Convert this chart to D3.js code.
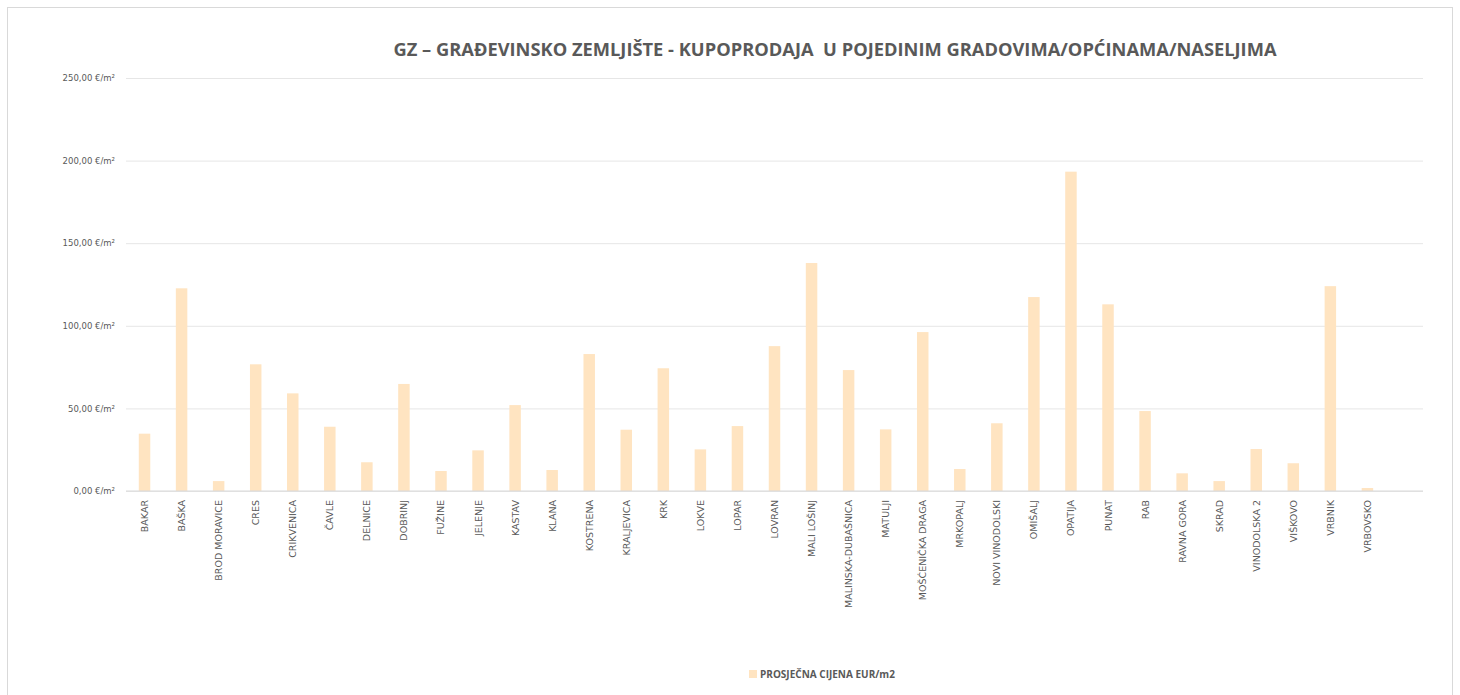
<!DOCTYPE html>
<html>
<head>
<meta charset="utf-8">
<script src="https://cdn.jsdelivr.net/npm/d3@7"></script>
<style>
  body { margin: 0; background: #fff; }
</style>
</head>
<body>
<svg id="chart" width="1460" height="695"></svg>
<script>
// Data
const categories = [
  "BAKAR", "BAŠKA", "BROD MORAVICE", "CRES", "CRIKVENICA", "ČAVLE", "DELNICE",
  "DOBRINJ", "FUŽINE", "JELENJE", "KASTAV", "KLANA", "KOSTRENA", "KRALJEVICA",
  "KRK", "LOKVE", "LOPAR", "LOVRAN", "MALI LOŠINJ", "MALINSKA-DUBAŠNICA",
  "MATULJI", "MOŠĆENIČKA DRAGA", "MRKOPALJ", "NOVI VINODOLSKI", "OMIŠALJ",
  "OPATIJA", "PUNAT", "RAB", "RAVNA GORA", "SKRAD", "VINODOLSKA 2", "VIŠKOVO",
  "VRBNIK", "VRBOVSKO"
];
const prices = [
  34.7, 122.7, 6.0, 76.7, 59.1, 38.9, 17.4,
  64.8, 12.1, 24.6, 52.0, 12.7, 82.9, 37.1,
  74.3, 25.2, 39.3, 87.7, 138.0, 73.2,
  37.3, 96.2, 13.3, 41.0, 117.4,
  193.3, 113.0, 48.4, 10.7, 6.0, 25.4, 16.8,
  124.0, 1.8
];
const yTicks = [0, 50, 100, 150, 200, 250];
const title = "GZ – GRAĐEVINSKO ZEMLJIŠTE - KUPOPRODAJA  U POJEDINIM GRADOVIMA/OPĆINAMA/NASELJIMA";
const seriesName = "PROSJEČNA CIJENA EUR/m2";

const width = 1460, height = 695;
const margin = { top: 78, right: 37, bottom: 204, left: 126 };
const innerWidth = width - margin.left - margin.right;
const innerHeight = height - margin.top - margin.bottom;
const barColor = "#ffe4c1";
const textColor = "#595959";

const svg = d3.select("#chart");

// Outer chart border (bottom edge falls just outside the picture)
svg.append("rect")
  .attr("x", 7.5).attr("y", 7.5)
  .attr("width", 1445).attr("height", 690)
  .attr("fill", "#fff")
  .attr("stroke", "#d9d9d9");

const g = svg.append("g")
  .attr("transform", `translate(${margin.left},${margin.top})`);

// The plot area leaves one empty slot after the last category
const slots = categories.length + 1;
const step = innerWidth / slots;
const x = d3.scaleBand()
  .domain(categories)
  .range([0, step * categories.length])
  .paddingInner(0.69)
  .paddingOuter(0.345);

const y = d3.scaleLinear()
  .domain([0, 250])
  .range([innerHeight, 0]);

const fmt = v => d3.format(".2f")(v).replace(".", ",") + " €/m²";

// Gridlines + y labels
const yAxis = d3.axisLeft(y)
  .tickValues(yTicks)
  .tickSize(-innerWidth)
  .tickPadding(11)
  .tickFormat(fmt);

g.append("g")
  .call(yAxis)
  .call(s => s.select(".domain").remove())
  .call(s => s.selectAll(".tick line").attr("stroke", "#e6e6e6"))
  .call(s => s.selectAll(".tick text")
    .attr("fill", textColor)
    .attr("font-family", "'DejaVu Sans', sans-serif")
    .attr("font-size", "8.5px"));

// Bars
g.selectAll(".bar")
  .data(prices)
  .enter()
  .append("rect")
  .attr("class", "bar")
  .attr("x", (d, i) => x(categories[i]))
  .attr("y", d => y(d))
  .attr("width", x.bandwidth())
  .attr("height", d => innerHeight - y(d))
  .attr("fill", barColor);

// Baseline
g.append("line")
  .attr("x1", 0).attr("x2", innerWidth)
  .attr("y1", innerHeight).attr("y2", innerHeight)
  .attr("stroke", "#d9d9d9");

// X labels, rotated
g.append("g")
  .attr("transform", `translate(0,${innerHeight})`)
  .selectAll("text")
  .data(categories)
  .enter()
  .append("text")
  .attr("transform", d => `translate(${x(d) + x.bandwidth() / 2 + 3.5},9) rotate(-90)`)
  .attr("text-anchor", "end")
  .attr("fill", textColor)
  .attr("font-family", "'DejaVu Sans', sans-serif")
  .attr("font-size", "9.5px")
  .text(d => d);

// Title
svg.append("text")
  .attr("x", 835)
  .attr("y", 56)
  .attr("text-anchor", "middle")
  .attr("fill", textColor)
  .attr("font-family", "'Open Sans', sans-serif")
  .attr("font-weight", "bold")
  .attr("font-size", "18.3px")
  .style("white-space", "pre")
  .text(title);

// Legend
const legend = svg.append("g").attr("transform", "translate(749,670)");
legend.append("rect")
  .attr("width", 8).attr("height", 8)
  .attr("fill", barColor);
legend.append("text")
  .attr("x", 11)
  .attr("y", 8)
  .attr("fill", textColor)
  .attr("font-family", "'Open Sans', sans-serif")
  .attr("font-weight", "bold")
  .attr("font-size", "10px")
  .text(seriesName);
</script>
</body>
</html>
